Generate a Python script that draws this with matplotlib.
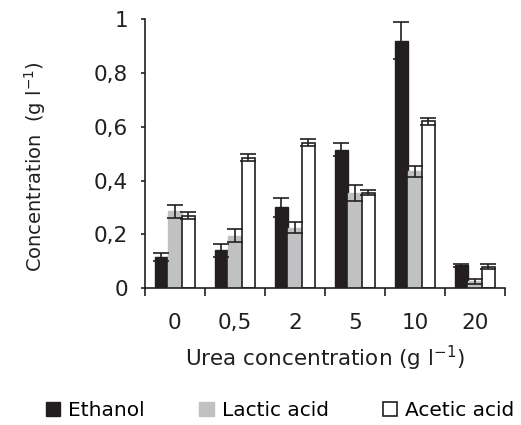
import matplotlib.pyplot as plt
import numpy as np

urea = ['0', '0,5', '2', '5', '10', '20']
ethanol = [0.115, 0.14, 0.30, 0.515, 0.92, 0.085]
ethanol_err = [0.015, 0.025, 0.035, 0.025, 0.07, 0.005]
lactic = [0.285, 0.195, 0.225, 0.355, 0.435, 0.025]
lactic_err = [0.025, 0.025, 0.02, 0.03, 0.02, 0.008]
acetic = [0.27, 0.485, 0.54, 0.355, 0.62, 0.08]
acetic_err = [0.013, 0.013, 0.013, 0.01, 0.013, 0.01]

fig = plt.figure(figsize=(5.21, 4.25), dpi=100)
ax = fig.add_axes([0.278, 0.322, 0.691, 0.633])

x = np.arange(len(urea))
w = 0.225
err_kw = dict(ecolor='#231f20', capsize=6, elinewidth=1.2, capthick=1.2)
ax.bar(x - w, ethanol, w, yerr=ethanol_err, color='#231f20', edgecolor='#231f20',
       label='Ethanol', error_kw=err_kw)
ax.bar(x, lactic, w, yerr=lactic_err, color='#c0c1c3', edgecolor='#c0c1c3',
       label='Lactic acid', error_kw=err_kw)
ax.bar(x + w, acetic, w, yerr=acetic_err, color='white', edgecolor='#231f20',
       linewidth=1.2, label='Acetic acid', error_kw=err_kw)

ax.set_xlim(-0.5, len(urea) - 0.5)
ax.set_ylim(0, 1)
ax.set_yticks([0, 0.2, 0.4, 0.6, 0.8, 1])
ax.set_yticklabels(['0', '0,2', '0,4', '0,6', '0,8', '1'], fontsize=15.5, color='#231f20')
ax.set_xticks(x)
ax.set_xticklabels(urea, fontsize=15.5, color='#231f20')
ax.set_xticks(np.arange(-0.5, len(urea)), minor=True)
ax.tick_params(axis='x', which='major', length=0, pad=18)
ax.tick_params(axis='x', which='minor', length=6, width=1.2, color='#231f20')
ax.tick_params(axis='y', length=3, width=1.2, color='#231f20', pad=9)

for s in ['top', 'right']:
    ax.spines[s].set_visible(False)
for s in ['left', 'bottom']:
    ax.spines[s].set_linewidth(1.2)
    ax.spines[s].set_color('#231f20')

ax.set_xlabel('Urea concentration (g l$^{-1}$)', fontsize=15.5, labelpad=8, color='#231f20')
ax.set_ylabel('Concentration  (g l$^{-1}$)', fontsize=14, color='#231f20')
ax.yaxis.set_label_coords(-0.27, 0.45)

fig.legend(loc='center', bbox_to_anchor=(0.538, 0.035), ncol=3, frameon=False,
           fontsize=14.5, handlelength=0.7, handleheight=0.7, handletextpad=0.4,
           columnspacing=2.7, borderpad=0)

fig.savefig('out.png', dpi=100)
